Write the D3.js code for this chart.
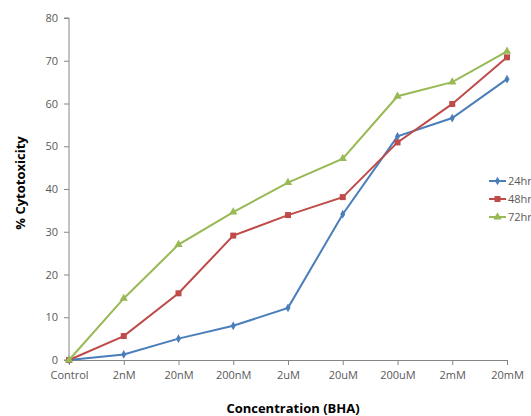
<!DOCTYPE html>
<html><head><meta charset="utf-8">
<script src="https://cdn.jsdelivr.net/npm/d3@7/dist/d3.min.js"></script>
<style>body{margin:0;background:#fff;overflow:hidden}text{font-family:"Open Sans","Liberation Sans",sans-serif}</style>
</head><body><svg id="c" width="531" height="416"></svg>
<script>
const categories = ["Control","2nM","20nM","200nM","2uM","20uM","200uM","2mM","20mM"];
const s24 = [0,1.3,5.0,8.0,12.2,34.1,52.3,56.6,65.7];
const s48 = [0,5.6,15.6,29.1,33.9,38.1,50.9,59.9,70.8];
const s72 = [0,14.4,27.0,34.6,41.5,47.1,61.7,65.0,72.2];
const seriesNames = ["24hr","48hr","72hr"];
const yTicks = [0,10,20,30,40,50,60,70,80];

const colors = ["#4A7EBB","#BE4B48","#98B954"];
const svg = d3.select("#c");
const x = d3.scalePoint().domain(categories).range([69,507]);
const y = d3.scaleLinear().domain([0,80]).range([360,18]);

const axisColor = "#868686";
const yAxis = svg.append("g").attr("transform","translate(69,0)")
  .call(d3.axisLeft(y).tickValues(yTicks).tickSize(5).tickPadding(6));
const xAxis = svg.append("g").attr("transform","translate(0,360)")
  .call(d3.axisBottom(x).tickSize(5).tickPadding(6).tickSizeOuter(0));
[yAxis,xAxis].forEach(g=>{
  g.selectAll("path,line").attr("stroke",axisColor);
  g.selectAll("text").attr("fill","#595959").style("font-size","11px");
});
yAxis.select("path").attr("d","M-5,18H0V360H-5");

const data = [s24,s48,s72];
const line = d3.line().x((d,i)=>x(categories[i])).y(d=>y(d));
const sym = [d3.symbolDiamond, d3.symbolSquare, d3.symbolTriangle];
const symSize = [22, 36, 30];
data.forEach((s,k)=>{
  svg.append("path").attr("d",line(s)).attr("fill","none").attr("stroke",colors[k]).attr("stroke-width",2);
  svg.append("g").selectAll("path").data(s).join("path")
    .attr("transform",(d,i)=>`translate(${x(categories[i])},${y(d)})`)
    .attr("d",d3.symbol(sym[k],symSize[k])).attr("fill",colors[k]);
});

// legend
const lg = svg.append("g");
seriesNames.forEach((n,k)=>{
  const yy = 181 + k*18;
  lg.append("line").attr("x1",489).attr("x2",506).attr("y1",yy).attr("y2",yy).attr("stroke",colors[k]).attr("stroke-width",2);
  lg.append("path").attr("transform",`translate(497.5,${yy})`).attr("d",d3.symbol(sym[k],symSize[k])).attr("fill",colors[k]);
  lg.append("text").attr("x",508).attr("y",yy+4).text(n).attr("fill","#595959").style("font-size","11px");
});

svg.append("text").attr("transform","translate(25,183) rotate(-90)").attr("text-anchor","middle")
  .style("font-size","13px").style("font-weight","bold").attr("fill","#000").text("% Cytotoxicity");
svg.append("text").attr("x",293).attr("y",413).attr("text-anchor","middle")
  .style("font-size","13px").style("font-weight","bold").attr("fill","#000").text("Concentration (BHA)");
</script></body></html>
